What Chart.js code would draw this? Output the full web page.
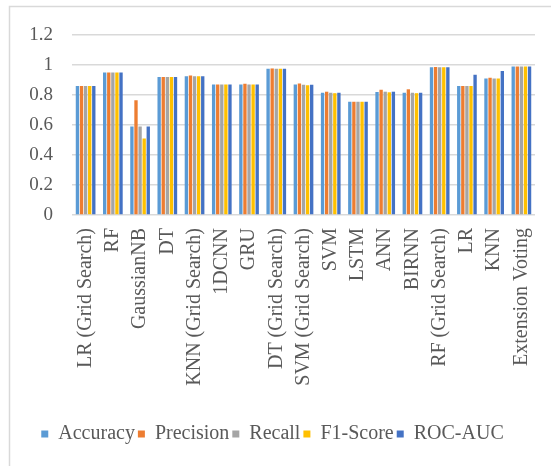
<!DOCTYPE html>
<html>
<head>
<meta charset="utf-8">
<script src="https://cdn.jsdelivr.net/npm/chart.js@4.4.1/dist/chart.umd.min.js"></script>
<style>
    html, body { margin: 0; padding: 0; background: #ffffff; }
    #wrap { width: 551px; height: 466px; position: relative; }
</style>
</head>
<body>
<div id="wrap"><canvas id="chart"></canvas></div>
<script>
const models = ['LR (Grid Search)', 'RF', 'GaussianNB', 'DT', 'KNN (Grid Search)', '1DCNN', 'GRU',
    'DT (Grid Search)', 'SVM (Grid Search)', 'SVM', 'LSTM', 'ANN', 'BIRNN', 'RF (Grid Search)',
    'LR', 'KNN', 'Extension Voting'];

const accuracy  = [0.86, 0.95, 0.59, 0.92, 0.925, 0.87, 0.87, 0.975, 0.87, 0.815, 0.755, 0.82, 0.815, 0.985, 0.86, 0.91, 0.99];
const precision = [0.86, 0.95, 0.765, 0.92, 0.93, 0.87, 0.875, 0.977, 0.877, 0.822, 0.755, 0.835, 0.838, 0.987, 0.86, 0.915, 0.99];
const recall    = [0.86, 0.95, 0.59, 0.92, 0.925, 0.87, 0.87, 0.975, 0.868, 0.815, 0.755, 0.822, 0.815, 0.985, 0.86, 0.91, 0.99];
const f1Score   = [0.86, 0.95, 0.51, 0.92, 0.925, 0.87, 0.87, 0.975, 0.865, 0.812, 0.755, 0.818, 0.812, 0.985, 0.86, 0.91, 0.99];
const rocAuc    = [0.86, 0.95, 0.59, 0.92, 0.925, 0.87, 0.87, 0.975, 0.868, 0.815, 0.755, 0.822, 0.815, 0.985, 0.935, 0.96, 0.99];

const yTicks = [0, 0.2, 0.4, 0.6, 0.8, 1, 1.2];

const seriesNames = ['Accuracy', 'Precision', 'Recall', 'F1-Score', 'ROC-AUC'];
const seriesColors = ['#5B9BD5', '#ED7D31', '#A5A5A5', '#FFC000', '#4472C4'];
const seriesData = [accuracy, precision, recall, f1Score, rocAuc];

const serif = 'Liberation Serif, Times New Roman, serif';
const textGrey = '#595959';
const gridGrey = '#d9d9d9';

// light frame around the chart (left and top edges are visible)
const framePlugin = {
    id: 'frame',
    beforeDraw(chart) {
        const ctx = chart.ctx;
        ctx.save();
        ctx.strokeStyle = gridGrey;
        ctx.lineWidth = 1.5;
        ctx.beginPath();
        ctx.moveTo(9.5, 466);
        ctx.lineTo(9.5, 6.5);
        ctx.lineTo(551, 6.5);
        ctx.stroke();
        ctx.restore();
    }
};

const datasets = seriesNames.map((name, i) => ({
    label: name,
    data: seriesData[i],
    backgroundColor: seriesColors[i],
    borderWidth: 0,
    categoryPercentage: 0.75,
    barPercentage: 0.82
}));

new Chart(document.getElementById('chart'), {
    type: 'bar',
    data: { labels: models, datasets: datasets },
    options: {
        responsive: true,
        maintainAspectRatio: false,
        animation: false,
        layout: { padding: { top: 35, left: 10, right: 16, bottom: 12 } },
        plugins: {
            tooltip: { enabled: false },
            legend: {
                position: 'bottom',
                labels: {
                    boxWidth: 7,
                    boxHeight: 7,
                    padding: 3,
                    color: textGrey,
                    font: { family: serif, size: 20 }
                }
            }
        },
        scales: {
            x: {
                grid: { display: false },
                border: { display: false },
                ticks: {
                    color: textGrey,
                    font: { family: serif, size: 20 },
                    maxRotation: 90,
                    minRotation: 90,
                    autoSkip: false,
                    padding: 5
                },
                afterFit(scale) { scale.height = 206; }
            },
            y: {
                min: 0,
                max: 1.2,
                grid: { color: gridGrey, lineWidth: 1.5, drawTicks: false },
                border: { display: false },
                afterBuildTicks(scale) { scale.ticks = yTicks.map(v => ({ value: v })); },
                ticks: {
                    color: textGrey,
                    font: { family: serif, size: 19 },
                    padding: 19,
                    callback: v => String(Math.round(v * 10) / 10)
                },
                afterFit(scale) { scale.width = 62; }
            }
        }
    },
    plugins: [framePlugin]
});
</script>
</body>
</html>
